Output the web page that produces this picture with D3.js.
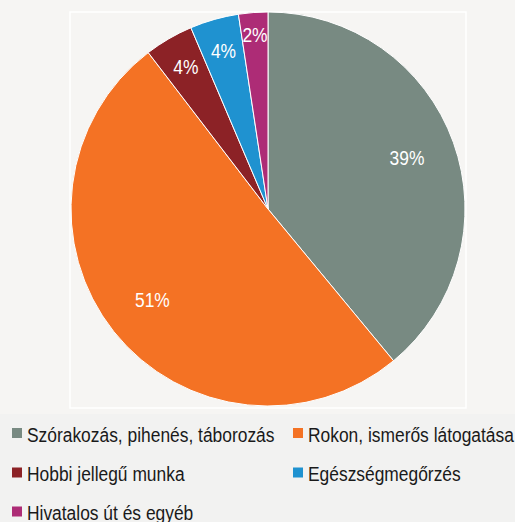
<!DOCTYPE html>
<html>
<head>
<meta charset="utf-8">
<script src="https://d3js.org/d3.v7.min.js"></script>
<style>
  body { margin: 0; background: #f6f5f3; }
  text { font-family: "Liberation Sans", Arial, sans-serif; }
</style>
</head>
<body>
<script>
    // data
    var categories = [
        "Szórakozás, pihenés, táborozás",
        "Rokon, ismerős látogatása",
        "Hobbi jellegű munka",
        "Egészségmegőrzés",
        "Hivatalos út és egyéb"
    ];
    var shares = [39.0, 50.6, 4.0, 4.0, 2.4];
    var labels = ["39%", "51%", "4%", "4%", "2%"];
    var colors = ["#788a82", "#f47224", "#8c2226", "#1f92d0", "#ad2c76"];

    var width = 515,
        height = 522;
    var cx = 268, cy = 209, radius = 197;
    var sx = 0.87; // text looks a bit condensed
    var fontSize = 20;

    var svg = d3.select("body").append("svg")
        .attr("width", width)
        .attr("height", height);

    svg.append("rect").attr("width", width).attr("height", height).attr("fill", "#f6f5f3");
    // legend band
    svg.append("rect").attr("x", 0).attr("y", 414).attr("width", width).attr("height", height - 414)
        .attr("fill", "#f2f2f1");
    // plot area border
    svg.append("rect").attr("x", 70).attr("y", 12).attr("width", 396).attr("height", 396)
        .attr("fill", "none").attr("stroke", "#ffffff").attr("stroke-width", 1.5);

    var items = categories.map(function (c, i) {
        return { name: c, value: shares[i], label: labels[i], color: colors[i] };
    });

    var pie = d3.pie().sort(null).value(function (d) { return d.value; });
    var arc = d3.arc().innerRadius(0).outerRadius(radius);
    var arcs = pie(items);

    var g = svg.append("g").attr("transform", "translate(" + cx + "," + cy + ")");

    g.selectAll(".slice")
        .data(arcs)
        .enter().append("path")
        .attr("class", "slice")
        .attr("d", arc)
        .attr("fill", function (d) { return d.data.color; })
        .attr("stroke", "#ffffff")
        .attr("stroke-width", 1);

    // small slices get their label pushed out to where it fits
    function labelRadius(d) {
        var span = d.endAngle - d.startAngle;
        if (span > 0.5) return radius * 0.75;
        if (span > 0.2) return radius - 34;
        return radius - 24;
    }

    g.selectAll(".lbl")
        .data(arcs)
        .enter().append("text")
        .attr("class", "lbl")
        .attr("transform", function (d) {
            var a = (d.startAngle + d.endAngle) / 2,
                r = labelRadius(d);
            return "translate(" + (Math.sin(a) * r) + "," + (-Math.cos(a) * r) + ") scale(" + sx + ",1)";
        })
        .attr("text-anchor", "middle")
        .attr("dy", "0.3em")
        .attr("font-size", fontSize)
        .attr("fill", "#ffffff")
        .text(function (d) { return d.data.label; });

    // legend, two columns
    var colX = [12, 293],
        rowY = [441.5, 481, 520];

    var leg = svg.selectAll(".leg")
        .data(items)
        .enter().append("g")
        .attr("class", "leg")
        .attr("transform", function (d, i) {
            return "translate(" + colX[i % 2] + "," + rowY[Math.floor(i / 2)] + ")";
        });

    leg.append("rect")
        .attr("x", 0).attr("y", -13.5)
        .attr("width", 10).attr("height", 10)
        .attr("fill", function (d) { return d.color; });

    leg.append("text")
        .attr("transform", "translate(15,0) scale(" + sx + ",1)")
        .attr("font-size", fontSize)
        .attr("fill", "#1a1a1a")
        .text(function (d) { return d.name; });
</script>
</body>
</html>
